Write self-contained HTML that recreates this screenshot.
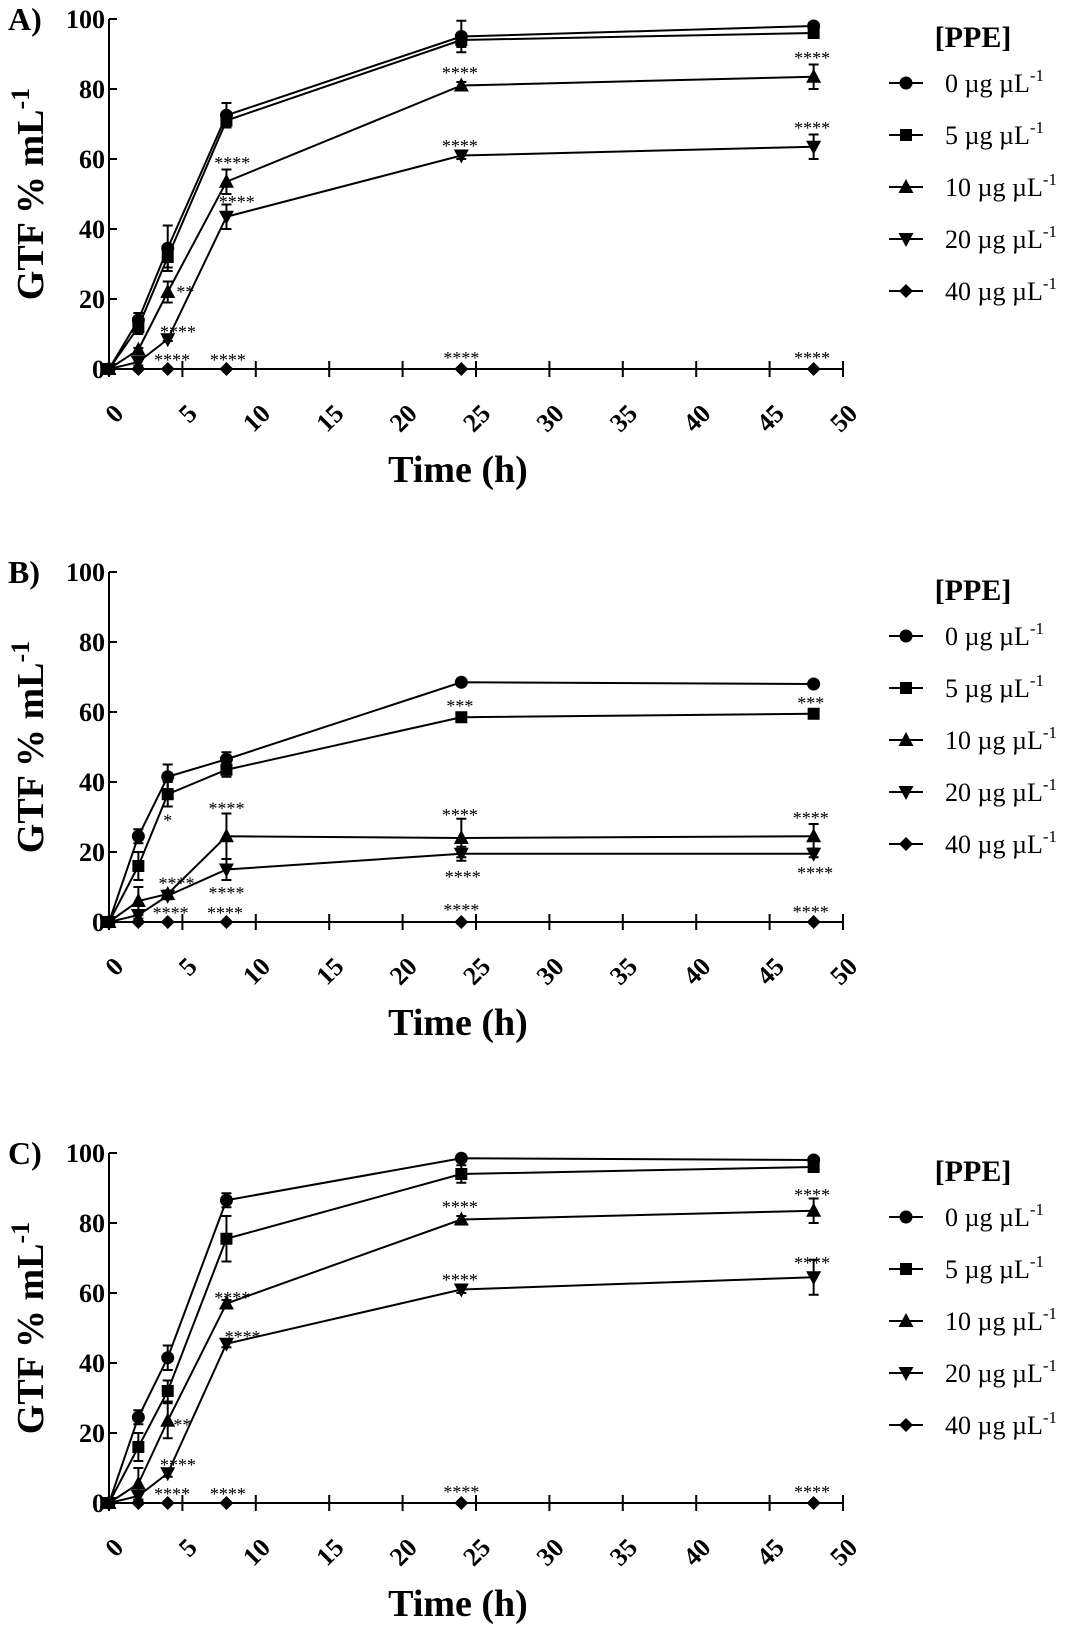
<!DOCTYPE html>
<html><head><meta charset="utf-8"><style>
html,body{margin:0;padding:0;background:#fff}
svg{display:block}
text{font-family:"Liberation Serif",serif;fill:#000}
</style></head>
<body>
<svg id="fig" width="1068" height="1637" viewBox="0 0 1068 1637" xmlns="http://www.w3.org/2000/svg"></svg>
<script>
// ===== data =====
const times = [0, 2, 4, 8, 24, 48];
const seriesLabels = ["0", "5", "10", "20", "40"];
const xTicks = [0, 5, 10, 15, 20, 25, 30, 35, 40, 45, 50];
const yTicks = [0, 20, 40, 60, 80, 100];

const aVals0 = [0, 14, 34.5, 72.5, 95, 98];
const aVals5 = [0, 12, 32, 71, 94, 96];
const aVals10 = [0, 5.5, 22, 53.5, 81, 83.5];
const aVals20 = [0, 2, 8.5, 43.5, 61, 63.5];
const aVals40 = [0, 0, 0, 0, 0, 0];
const aErr0 = [0, 2, 6.5, 3.5, 4.5, 1];
const aErr5 = [0, 2, 3, 2, 2, 1];
const aErr10 = [0, 0.5, 3, 3.5, 1, 3.5];
const aErr20 = [0, 1, 0.5, 3.5, 1, 3.5];
const aNotes = [[5.2,22,"**"],[4.7,10.6,"****"],[4.3,2.6,"****"],[8.1,2.6,"****"],[8.4,58.8,"****"],[8.7,47.7,"****"],[23.9,84.6,"****"],[23.9,63.7,"****"],[24,3.2,"****"],[47.9,88.9,"****"],[47.9,68.8,"****"],[47.9,3.1,"****"]];

const bVals0 = [0, 24.5, 41.5, 46.5, 68.5, 68];
const bVals5 = [0, 16, 36.5, 43.5, 58.5, 59.5];
const bVals10 = [0, 6, 8, 24.5, 24, 24.5];
const bVals20 = [0, 2, 7.5, 15, 19.5, 19.5];
const bVals40 = [0, 0, 0, 0, 0, 0];
const bErr0 = [0, 2, 3.5, 2, 0.5, 0.5];
const bErr5 = [0, 4, 3.5, 2, 0.5, 0.5];
const bErr10 = [0, 4, 1, 6.5, 5.5, 3.5];
const bErr20 = [0, 1, 1, 3, 2, 1];
const bNotes = [[4.0,29,"*"],[8.0,32.5,"****"],[23.9,61.7,"***"],[23.9,30.6,"****"],[4.6,11,"****"],[8.0,8.3,"****"],[24.1,12.9,"****"],[4.2,2.6,"****"],[7.9,2.6,"****"],[24,3.4,"****"],[47.8,62.6,"***"],[47.8,29.7,"****"],[48.1,14,"****"],[47.8,2.9,"****"]];

const cVals0 = [0, 24.5, 41.5, 86.5, 98.5, 98];
const cVals5 = [0, 16, 32, 75.5, 94, 96];
const cVals10 = [0, 5.5, 23.5, 57, 81, 83.5];
const cVals20 = [0, 2, 8.5, 45.5, 61, 64.5];
const cVals40 = [0, 0, 0, 0, 0, 0];
const cErr0 = [0, 2, 3.5, 2, 0.5, 0.5];
const cErr5 = [0, 4, 3, 6.5, 2.5, 1];
const cErr10 = [0, 4.5, 5, 1, 1, 3.5];
const cErr20 = [0, 1, 1, 1, 1, 5];
const cNotes = [[5.0,22.3,"**"],[4.7,10.9,"****"],[4.3,2.6,"****"],[8.1,2.6,"****"],[8.4,58.6,"****"],[9.1,47.4,"****"],[23.9,84.6,"****"],[23.9,63.7,"****"],[24,3.2,"****"],[47.9,88,"****"],[47.9,68.6,"****"],[47.9,3.1,"****"]];

// ===== drawing =====
const NS = "http://www.w3.org/2000/svg";
const svg = document.getElementById("fig");
function mk(tag, attrs, parent) {
  const e = document.createElementNS(NS, tag);
  for (const k in attrs) e.setAttribute(k, attrs[k]);
  (parent || svg).appendChild(e);
  return e;
}
const shapes = ["circle", "square", "triangle", "down", "diamond"];
function marker(g, shape, cx, cy) {
  let e;
  if (shape === "circle") e = mk("circle", {cx: cx, cy: cy, r: 6.5}, g);
  else if (shape === "square") e = mk("rect", {x: cx - 6, y: cy - 6, width: 12, height: 12}, g);
  else if (shape === "triangle") e = mk("polygon", {points: `${cx},${cy-8} ${cx-7.5},${cy+6} ${cx+7.5},${cy+6}`}, g);
  else if (shape === "down") e = mk("polygon", {points: `${cx},${cy+8} ${cx-7.5},${cy-6} ${cx+7.5},${cy-6}`}, g);
  else e = mk("polygon", {points: `${cx},${cy-7} ${cx+7},${cy} ${cx},${cy+7} ${cx-7},${cy}`}, g);
  e.setAttribute("fill", "#000");
  return e;
}

function drawPanel(id, letter, y0, vals, errs, notes) {
  const g = mk("g", {});
  
  
  const xL = 109, xR = 843, ppu = 3.5;
  const X = t => xL + (xR - xL) * t / 50;
  const Y = v => y0 - v * ppu;

  const lt = mk("text", {x: 8, y: Y(100) + 11, "font-size": 32, "font-weight": "bold"}, g);
  lt.textContent = letter + ")";
  
  

  const ya = mk("g", {}, g);
  
  
  mk("line", {x1: xL, y1: Y(100), x2: xL, y2: Y(0), stroke: "#000", "stroke-width": 2}, ya);
  yTicks.forEach(v => {
    mk("line", {x1: xL, y1: Y(v), x2: xL + 8, y2: Y(v), stroke: "#000", "stroke-width": 2}, ya);
    const t = mk("text", {x: xL - 4, y: Y(v) + 9, "font-size": 26, "font-weight": "bold", "text-anchor": "end"}, ya);
    t.textContent = v;
    
    
  });
  const yt = mk("text", {transform: `translate(43,${(Y(0)+Y(100))/2}) rotate(-90)`, "font-size": 38, "font-weight": "bold", "text-anchor": "middle"}, g);
  yt.innerHTML = 'GTF % mL<tspan font-size="26" dy="-14">-1</tspan>';
  
  

  const xa = mk("g", {}, g);
  
  
  mk("line", {x1: xL, y1: y0, x2: xR, y2: y0, stroke: "#000", "stroke-width": 2}, xa);
  xTicks.forEach(v => {
    mk("line", {x1: X(v), y1: y0 - 8, x2: X(v), y2: y0 + 8, stroke: "#000", "stroke-width": 2}, xa);
    const tx = X(v) + 16, ty = y0 + 46;
    const t = mk("text", {x: tx, y: ty, transform: `rotate(-45 ${tx} ${ty})`, "font-size": 26, "font-weight": "bold", "text-anchor": "end"}, xa);
    t.textContent = v;
    
    
  });
  const xt = mk("text", {x: 458, y: y0 + 113, "font-size": 38, "font-weight": "bold", "text-anchor": "middle"}, g);
  xt.textContent = "Time (h)";
  
  

  vals.forEach((arr, si) => {
    const sg = mk("g", {}, g);
    
    
    const pts = arr.map((v, i) => X(times[i]) + "," + Y(v)).join(" ");
    mk("polyline", {points: pts, fill: "none", stroke: "#000", "stroke-width": 2}, sg);
    arr.forEach((v, i) => {
      const e = errs[si] ? errs[si][i] : 0;
      if (e > 0) {
        const cx = X(times[i]);
        mk("line", {x1: cx, y1: Y(v - e), x2: cx, y2: Y(v + e), stroke: "#000", "stroke-width": 2}, sg);
        mk("line", {x1: cx - 5, y1: Y(v + e), x2: cx + 5, y2: Y(v + e), stroke: "#000", "stroke-width": 2}, sg);
        mk("line", {x1: cx - 5, y1: Y(v - e), x2: cx + 5, y2: Y(v - e), stroke: "#000", "stroke-width": 2}, sg);
      }
      const m = marker(sg, shapes[si], X(times[i]), Y(v));
      
      
    });
  });

  notes.forEach(n => {
    const t = mk("text", {x: X(n[0]), y: Y(n[1]) + 6, "font-size": 18, "text-anchor": "middle"}, g);
    t.textContent = n[2];
    
    
  });

  const lg = mk("g", {}, g);
  
  
  const top = y0 - 286;
  const h = mk("text", {x: 973, y: top - 36, "font-size": 30, "font-weight": "bold", "text-anchor": "middle"}, lg);
  h.textContent = "[PPE]";
  
  
  seriesLabels.forEach((lab, i) => {
    const ly = top + i * 52;
    const eg = mk("g", {}, lg);
    
    
    mk("line", {x1: 889, y1: ly, x2: 923, y2: ly, stroke: "#000", "stroke-width": 2}, eg);
    marker(eg, shapes[i], 906, ly);
    const t = mk("text", {x: 945, y: ly + 9, "font-size": 26}, eg);
    t.innerHTML = lab + ' \u00b5g \u00b5L<tspan font-size="17" dy="-11">-1</tspan>';
  });
}

drawPanel("a", "A", 369, [aVals0, aVals5, aVals10, aVals20, aVals40], [aErr0, aErr5, aErr10, aErr20, null], aNotes);
drawPanel("b", "B", 922, [bVals0, bVals5, bVals10, bVals20, bVals40], [bErr0, bErr5, bErr10, bErr20, null], bNotes);
drawPanel("c", "C", 1503, [cVals0, cVals5, cVals10, cVals20, cVals40], [cErr0, cErr5, cErr10, cErr20, null], cNotes);
</script>
</body></html>
